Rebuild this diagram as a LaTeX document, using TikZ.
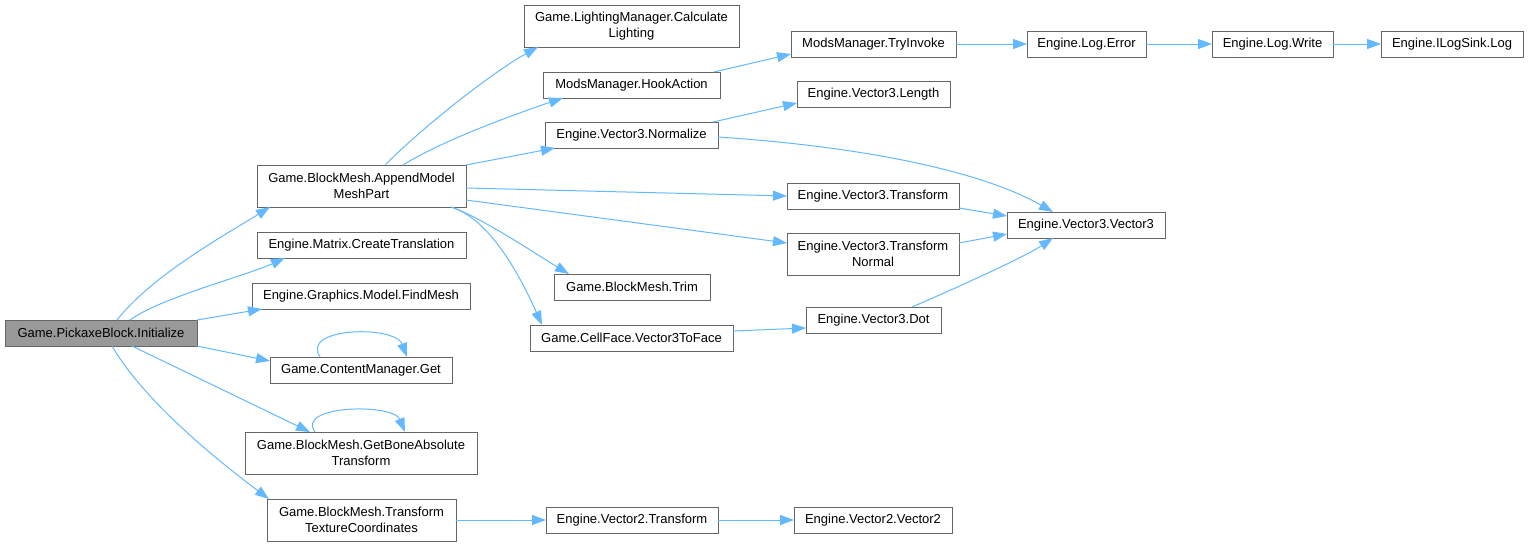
\documentclass[tikz,border=0pt]{standalone}
\usepackage{fontspec}
\setmainfont{Liberation Sans}
\usetikzlibrary{arrows.meta}
\definecolor{edgeblue}{HTML}{63B8FF}
\definecolor{boxgray}{HTML}{666666}
\definecolor{rootfill}{HTML}{999999}
\begin{document}
\begin{tikzpicture}[x=1pt,y=-1pt,
  fn/.style={draw=boxgray, line width=1pt, fill=white, inner sep=0pt, outer sep=0pt,
    align=center, font=\fontsize{13}{16}\selectfont},
  root/.style={fn, fill=rootfill},
  call/.style={draw=edgeblue, line width=1pt, -{Triangle[length=14pt,width=10pt]}}]
\useasboundingbox (0,0) rectangle (1528,547);
% nodes
\node[root, minimum width=192pt, minimum height=26pt] (init) at (101,333) {Game.PickaxeBlock.Initialize};
\node[fn, minimum width=209pt, minimum height=42pt] (amp) at (361.5,186) {Game.BlockMesh.AppendModel\\MeshPart};
\node[fn, minimum width=209pt, minimum height=26pt] (ct) at (361.5,245) {Engine.Matrix.CreateTranslation};
\node[fn, minimum width=218pt, minimum height=26pt] (fm) at (361,296) {Engine.Graphics.Model.FindMesh};
\node[fn, minimum width=182pt, minimum height=26pt] (get) at (361,370) {Game.ContentManager.Get};
\node[fn, minimum width=232pt, minimum height=42pt] (gb) at (361,453) {Game.BlockMesh.GetBoneAbsolute\\Transform};
\node[fn, minimum width=189pt, minimum height=42pt] (ttc) at (361.5,520) {Game.BlockMesh.Transform\\TextureCoordinates};
\node[fn, minimum width=215pt, minimum height=42pt] (lm) at (631.5,26) {Game.LightingManager.Calculate\\Lighting};
\node[fn, minimum width=177pt, minimum height=26pt] (ha) at (631.5,85) {ModsManager.HookAction};
\node[fn, minimum width=173pt, minimum height=26pt] (nrm) at (631.5,135) {Engine.Vector3.Normalize};
\node[fn, minimum width=156pt, minimum height=26pt] (trim) at (632,287) {Game.BlockMesh.Trim};
\node[fn, minimum width=203pt, minimum height=26pt] (v3f) at (631.5,338) {Game.CellFace.Vector3ToFace};
\node[fn, minimum width=172pt, minimum height=26pt] (v2t) at (632,520) {Engine.Vector2.Transform};
\node[fn, minimum width=165pt, minimum height=26pt] (ti) at (873.5,44) {ModsManager.TryInvoke};
\node[fn, minimum width=153pt, minimum height=26pt] (len) at (873.5,94) {Engine.Vector3.Length};
\node[fn, minimum width=172pt, minimum height=26pt] (v3t) at (873,196) {Engine.Vector3.Transform};
\node[fn, minimum width=172pt, minimum height=42pt] (v3n) at (873,254) {Engine.Vector3.Transform\\Normal};
\node[fn, minimum width=135pt, minimum height=26pt] (dot) at (873.5,320) {Engine.Vector3.Dot};
\node[fn, minimum width=158pt, minimum height=26pt] (v2v) at (873,520) {Engine.Vector2.Vector2};
\node[fn, minimum width=119pt, minimum height=26pt] (le) at (1086.5,44) {Engine.Log.Error};
\node[fn, minimum width=158pt, minimum height=26pt] (v3v) at (1086,225) {Engine.Vector3.Vector3};
\node[fn, minimum width=121pt, minimum height=26pt] (lw) at (1272.5,44) {Engine.Log.Write};
\node[fn, minimum width=142pt, minimum height=26pt] (ils) at (1452,44) {Engine.ILogSink.Log};
% edges from Initialize
\draw[call] ([shift={(112,0)}]init.north west) .. controls +(35,-45) and +(-40,25) .. ([shift={(13,0)}]amp.south west);
\draw[call] ([shift={(125,0)}]init.north west) .. controls +(30,-22) and +(-40,18) .. ([shift={(28,0)}]ct.south west);
\draw[call] (init.north east) -- ([shift={(10,0)}]fm.south west);
\draw[call] (init.south east) -- ([shift={(0,4)}]get.north west);
\draw[call] ([shift={(127,0)}]init.south west) -- ([shift={(65,0)}]gb.north west);
\draw[call] ([shift={(107,0)}]init.south west) .. controls +(35,60) and +(-40,-30) .. ([shift={(2,0)}]ttc.north west);
% self loops
\draw[call] ([shift={(50,0)}]get.north west) .. controls +(-20,-30) and +(-12,-32) .. ([shift={(137,0)}]get.north west);
\draw[call] ([shift={(70,0)}]gb.north west) .. controls +(-20,-27) and +(-12,-29) .. ([shift={(160,0)}]gb.north west);
% edges from AppendModelMeshPart
\draw[call] ([shift={(128,0)}]amp.north west) .. controls +(40,-40) and +(-45,25) .. ([shift={(14,0)}]lm.south west);
\draw[call] ([shift={(146,0)}]amp.north west) .. controls +(40,-25) and +(-45,15) .. ([shift={(20,0)}]ha.south west);
\draw[call] (amp.north east) -- ([shift={(10,0)}]nrm.south west);
\draw[call] ([shift={(0,23)}]amp.north east) -- ([shift={(0,13)}]v3t.north west);
\draw[call] ([shift={(0,35)}]amp.north east) -- ([shift={(0,10)}]v3n.north west);
\draw[call] ([shift={(-15,0)}]amp.south east) .. controls +(30,10) and +(-30,-18) .. ([shift={(15,0)}]trim.north west);
\draw[call] ([shift={(-15,0)}]amp.south east) .. controls +(40,12) and +(-20,-45) .. ([shift={(12,0)}]v3f.north west);
% further edges
\draw[call] ([shift={(-6,0)}]ha.north east) -- ([shift={(0,-3)}]ti.south west);
\draw[call] ([shift={(-5,0)}]nrm.north east) -- ([shift={(0,-4)}]len.south west);
\draw[call] ([shift={(0,15)}]nrm.north east) .. controls +(150,10) and +(-70,-40) .. ([shift={(46,0)}]v3v.north west);
\draw[call] ([shift={(106,0)}]dot.north west) .. controls +(35,-15) and +(-30,20) .. ([shift={(46,0)}]v3v.south west);
\draw[call] ([shift={(0,-1)}]v3t.south east) -- ([shift={(0,4)}]v3v.north west);
\draw[call] ([shift={(0,10)}]v3n.north east) -- ([shift={(0,-4)}]v3v.south west);
\draw[call] ([shift={(0,6)}]v3f.north east) -- ([shift={(0,21)}]dot.north west);
\draw[call] (ttc.east) -- (v2t.west);
\draw[call] (v2t.east) -- (v2v.west);
\draw[call] (ti.east) -- (le.west);
\draw[call] (le.east) -- (lw.west);
\draw[call] (lw.east) -- (ils.west);
\end{tikzpicture}
\end{document}
